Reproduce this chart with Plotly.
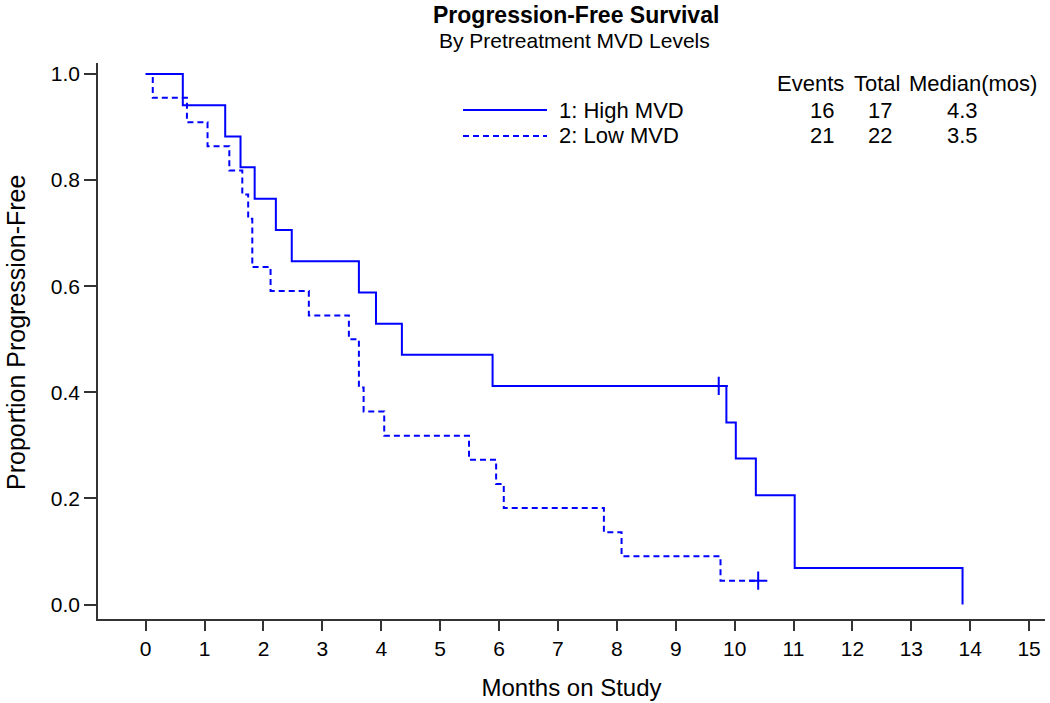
import plotly.graph_objects as go

# ---- data ----
high_time = [0, 0.63, 1.35, 1.61, 1.85, 2.21, 2.48, 3.62, 3.91, 4.35, 5.89, 9.86, 10.02, 10.36, 11.02, 13.87]
high_surv = [1.0, 0.941, 0.882, 0.824, 0.765, 0.706, 0.647, 0.588, 0.529, 0.471, 0.412, 0.343, 0.275, 0.206, 0.069, 0.0]
high_cens_time = [9.73]
high_cens_surv = [0.412]

low_time = [0, 0.12, 0.70, 1.05, 1.42, 1.64, 1.74, 1.81, 2.12, 2.77, 3.45, 3.62, 3.70, 4.05, 5.49, 5.95, 6.08, 7.78, 8.08, 9.76, 10.40]
low_surv = [1.0, 0.955, 0.909, 0.864, 0.818, 0.773, 0.727, 0.636, 0.591, 0.545, 0.5, 0.409, 0.364, 0.318, 0.273, 0.227, 0.182, 0.136, 0.091, 0.045, 0.045]
low_cens_time = [10.40]
low_cens_surv = [0.045]

group_labels = ["1: High MVD", "2: Low MVD"]
table_header = ["Events", "Total", "Median(mos)"]
events = [16, 21]
totals = [17, 22]
medians = ["4.3", "3.5"]

x_ticks = list(range(0, 16))
y_ticks = [0.0, 0.2, 0.4, 0.6, 0.8, 1.0]

# ---- styling / layout ----
W, H = 1050, 703
L, R, T, B = 98, 5, 63, 84
FONT = "Liberation Sans, Arial, sans-serif"
BLUE = "#0000FF"
AX = "#333333"
DASH = "6px,4px"
TXT = 22

def px(xp):
    return (xp - L) / (W - L - R)

def py(yp):
    return (H - B - yp) / (H - T - B)

fig = go.Figure()
fig.add_trace(go.Scatter(x=high_time, y=high_surv, mode="lines", line_shape="hv",
                         line=dict(color=BLUE, width=2), name=group_labels[0]))
fig.add_trace(go.Scatter(x=low_time, y=low_surv, mode="lines", line_shape="hv",
                         line=dict(color=BLUE, width=2, dash=DASH), name=group_labels[1]))
fig.add_trace(go.Scatter(x=high_cens_time, y=high_cens_surv, mode="markers",
                         marker=dict(symbol="cross-thin", size=13, line=dict(color=BLUE, width=2)),
                         showlegend=False))
fig.add_trace(go.Scatter(x=low_cens_time, y=low_cens_surv, mode="markers",
                         marker=dict(symbol="cross-thin", size=13, line=dict(color=BLUE, width=2)),
                         showlegend=False))

annots = []
# titles
annots.append(dict(text="<b>Progression-Free Survival</b>", x=px(576), y=py(0), xref="paper", yref="paper",
                   xanchor="center", yanchor="top", showarrow=False,
                   font=dict(family=FONT, size=23, color="black")))
annots.append(dict(text="By Pretreatment MVD Levels", x=px(574), y=py(40), xref="paper", yref="paper",
                   xanchor="center", yanchor="middle", showarrow=False,
                   font=dict(family=FONT, size=21, color="black")))
# y-axis title
annots.append(dict(text="Proportion Progression-Free", x=px(16), y=py(333), xref="paper", yref="paper",
                   xanchor="center", yanchor="middle", textangle=-90, showarrow=False,
                   font=dict(family=FONT, size=25, color="black")))

# legend (manual)
row_y = [110, 136]
shapes = []
for i, lab in enumerate(group_labels):
    shapes.append(dict(type="line", xref="paper", yref="paper", x0=px(463), x1=px(547),
                       y0=py(row_y[i]), y1=py(row_y[i]),
                       line=dict(color=BLUE, width=2, dash=("solid" if i == 0 else DASH))))
    annots.append(dict(text=lab, x=px(557), y=py(row_y[i]), xref="paper", yref="paper",
                       xanchor="left", yanchor="middle", showarrow=False,
                       font=dict(family=FONT, size=TXT, color="black")))

# table
hdr_x = [775, 852, 907]
for j, h in enumerate(table_header):
    annots.append(dict(text=h, x=px(hdr_x[j]), y=py(83), xref="paper", yref="paper",
                       xanchor="left", yanchor="middle", showarrow=False,
                       font=dict(family=FONT, size=TXT, color="black")))
for i in range(2):
    annots.append(dict(text=str(events[i]), x=px(836), y=py(row_y[i]), xref="paper", yref="paper",
                       xanchor="right", yanchor="middle", showarrow=False,
                       font=dict(family=FONT, size=TXT, color="black")))
    annots.append(dict(text=str(totals[i]), x=px(894), y=py(row_y[i]), xref="paper", yref="paper",
                       xanchor="right", yanchor="middle", showarrow=False,
                       font=dict(family=FONT, size=TXT, color="black")))
    annots.append(dict(text=medians[i], x=px(962), y=py(row_y[i]), xref="paper", yref="paper",
                       xanchor="center", yanchor="middle", showarrow=False,
                       font=dict(family=FONT, size=TXT, color="black")))

fig.update_layout(
    width=W, height=H,
    margin=dict(l=L, r=R, t=T, b=B, pad=0),
    paper_bgcolor="white", plot_bgcolor="white",
    showlegend=False,
    annotations=annots, shapes=shapes,
    font=dict(family=FONT, color="black"),
)
fig.update_xaxes(
    range=[-0.81, 15.27], tickmode="array", tickvals=x_ticks,
    ticktext=[str(v) for v in x_ticks],
    showline=True, linecolor=AX, linewidth=1.5, ticks="outside", ticklen=10,
    tickwidth=1.5, tickcolor=AX, showgrid=False, zeroline=False,
    tickfont=dict(family=FONT, size=21, color="black"),
    title=dict(text="Months on Study", font=dict(family=FONT, size=24, color="black"), standoff=20),
)
fig.update_yaxes(
    range=[-0.0273, 1.0207], tickmode="array", tickvals=y_ticks,
    ticktext=[f"{v:.1f}" for v in y_ticks],
    showline=True, linecolor=AX, linewidth=1.5, ticks="outside", ticklen=12,
    tickwidth=1.5, tickcolor=AX, showgrid=False, zeroline=False,
    tickfont=dict(family=FONT, size=21, color="black"),
)

fig.write_html("out.html", config={"displayModeBar": False},
               post_script="document.body.style.margin='0';document.body.style.padding='0';")
